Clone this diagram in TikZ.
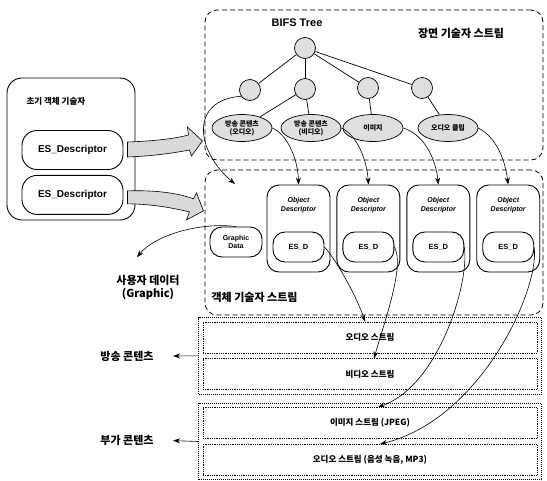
\documentclass[tikz,border=0pt]{standalone}
\usepackage{fontspec}
\setmainfont{Liberation Sans}
\newfontfamily\kr{Noto Sans CJK KR}
\usetikzlibrary{
  arrows.meta,
  positioning,
  shapes.geometric,
  fit,
  calc
}

\begin{document}
\begin{tikzpicture}[
  x=1pt, y=-1pt,
  region/.style={draw, line width=0.8pt, dash pattern=on 5pt off 3pt,
    rounded corners=12pt},
  treenode/.style={circle, draw, line width=0.7pt, fill=gray!25,
    minimum size=21pt, inner sep=0pt},
  media/.style={ellipse, draw, line width=0.7pt, fill=gray!25, inner sep=0pt,
    minimum width=60pt, minimum height=27pt, align=center,
    font=\kr\bfseries\fontsize{7}{8}\selectfont},
  odbox/.style={draw, line width=0.9pt, rounded corners=12pt,
    minimum width=63pt, minimum height=87pt},
  odtitle/.style={inner sep=0pt, align=center,
    font=\bfseries\itshape\fontsize{7}{8.5}\selectfont},
  esd/.style={draw, line width=0.9pt, rounded corners=12pt,
    minimum width=51pt, minimum height=30pt, align=center,
    font=\bfseries\fontsize{7.5}{9}\selectfont},
  esdesc/.style={draw, line width=0.9pt, rounded corners=15pt,
    minimum width=101pt, minimum height=39pt,
    font=\bfseries\fontsize{10}{12}\selectfont},
  streambox/.style={draw, densely dotted, line width=0.8pt,
    minimum width=334pt, minimum height=31pt, inner sep=0pt,
    font=\kr\bfseries\fontsize{8.5}{10}\selectfont},
  streamframe/.style={draw, densely dotted, line width=1pt, inner sep=4pt},
  klabel/.style={font=\kr\bfseries\fontsize{11}{13}\selectfont, align=center},
  edge/.style={line width=0.7pt},
  arrow/.style={-{Stealth[length=7pt, width=5pt]}, line width=0.6pt},
  blockarrow/.style={draw, line width=0.6pt, fill=gray!30}
]
  \useasboundingbox (0,0) rectangle (547,480);

  % scene description stream
  \node[region, minimum width=338pt, minimum height=150pt] (scene) at (374,85) {};
  \node[font=\bfseries\fontsize{11}{13}\selectfont] (bifs) at (297,23) {BIFS Tree};
  \node[klabel] (scenename) at (461,33) {장면 기술자 스트림};

  \node[treenode] (root) at (305,48) {};
  \node[treenode] (c1) at (250,90) {};
  \node[treenode] (c2) at (305,89) {};
  \node[treenode] (c3) at (368,88) {};
  \node[treenode] (c4) at (422,88) {};

  \node[media] (m1) at (242,128) {방송 콘텐츠\\(오디오)};
  \node[media] (m2) at (311,128) {방송 콘텐츠\\(비디오)};
  \node[media] (m3) at (373,128) {이미지};
  \node[media] (m4) at (448,128) {오디오 클립};

  \draw[edge] (root) -- (c1);
  \draw[edge] (root) -- (c2);
  \draw[edge] (root) -- (c3);
  \draw[edge] (root) -- (c4);
  \draw[edge] (c2) -- (m1);
  \draw[edge] (c2) -- (m2);
  \draw[edge] (c3) -- (m3);
  \draw[edge] (c4) -- (m4);

  % object descriptor stream
  \node[region, minimum width=338pt, minimum height=145pt] (odstream) at (374,242.5) {};
  \node[klabel, anchor=west] (odname) at (208,297) {객체 기술자 스트림};

  \node[odbox] (od1) at (298.5,228.5) {};
  \node[odbox, right=6pt of od1] (od2) {};
  \node[odbox, right=6pt of od2] (od3) {};
  \node[odbox, right=6pt of od3] (od4) {};

  \node[odtitle, below=13pt of od1.north] (ot1) {Object\\Descriptor};
  \node[odtitle, below=13pt of od2.north] (ot2) {Object\\Descriptor};
  \node[odtitle, below=13pt of od3.north] (ot3) {Object\\Descriptor};
  \node[odtitle, below=13pt of od4.north] (ot4) {Object\\Descriptor};

  \node[esd, above=10pt of od1.south] (esd1) {ES\_D};
  \node[esd, above=10pt of od2.south] (esd2) {ES\_D};
  \node[esd, above=10pt of od3.south] (esd3) {ES\_D};
  \node[esd, above=10pt of od4.south] (esd4) {ES\_D};

  \node[esd, minimum width=52pt, font=\bfseries\fontsize{7}{8.5}\selectfont]
    (gd) at (236,242) {Graphic\\Data};

  \coordinate (gdin) at (235,184);
  \draw[arrow] (c1.215) .. controls (190,100) and (195,150) .. (gdin);

  \draw[arrow] (m1.east) .. controls (288,135) and (298,160) .. (od1.north);
  \draw[arrow] (m2.east) .. controls (357,135) and (367,160) .. (od2.north);
  \draw[arrow] (m3.east) .. controls (425,135) and (436,160) .. (od3.north);
  \draw[arrow] (m4.east) .. controls (497,138) and (505,160) .. (od4.north);

  % initial object descriptor
  \node[draw, line width=0.9pt, rounded corners=15pt, minimum width=128pt,
    minimum height=142pt] (init) at (71,149) {};
  \node[font=\kr\bfseries\fontsize{8.5}{10}\selectfont, anchor=west]
    (inittitle) at (23,101) {초기 객체 기술자};
  \node[esdesc] (d1) at (72.5,150) {ES\_Descriptor};
  \node[esdesc, below=5pt of d1] (d2) {ES\_Descriptor};

  \begin{scope}[shift={(d1.east)}]
    \path[blockarrow] (4,-8) .. controls (30,-9) and (50,-11) .. (65,-15)
      -- (64,-23) -- (79,-9) -- (68,6) -- (66,0)
      .. controls (50,3) and (30,6) .. (4,7) -- cycle;
  \end{scope}
  \begin{scope}[shift={(d2.east)}]
    \path[blockarrow] (4,-4) .. controls (30,-5) and (55,-2) .. (70,4)
      -- (73,-2) -- (80,16) -- (63,25) -- (66,17)
      .. controls (45,12) and (25,9) .. (4,9) -- cycle;
  \end{scope}

  % user data
  \node[klabel] (user) at (148,287) {사용자 데이터\\(Graphic)};
  \draw[arrow] (gd.north) .. controls (200,222) and (155,235)
    .. ([shift={(-11,-14)}]user.north);

  % elementary streams
  \node[streambox] (s1) at (370,337.5) {오디오 스트림};
  \node[streambox, below=5pt of s1] (s2) {비디오 스트림};
  \node[streambox, below=17pt of s2] (s3) {이미지 스트림 (JPEG)};
  \node[streambox, below=5pt of s3] (s4) {오디오 스트림 (음성 녹음, MP3)};
  \node[streamframe, fit=(s1)(s2)] (g1) {};
  \node[streamframe, fit=(s3)(s4)] (g2) {};

  \node[klabel] (bcast) at (127,356) {방송 콘텐츠};
  \node[klabel] (extra) at (127,440) {부가 콘텐츠};
  \draw[arrow, shorten >=16pt] (g1.west) -- (bcast.east);
  \draw[arrow, shorten >=16pt] (g2.west) -- (extra.east);

  \draw[arrow] (esd1.east) .. controls (338,262) and (358,300) .. ([xshift=-5pt]s1.north);
  \draw[arrow] (esd2.east) .. controls (405,265) and (385,320) .. ([xshift=4pt]s2.north);
  \draw[arrow] (esd3.east) .. controls (470,280) and (440,385) .. ([xshift=8pt]s3.north);
  \draw[arrow] (esd4.east) .. controls (540,290) and (480,420) .. ([xshift=10pt]s4.north);

\end{tikzpicture}
\end{document}
